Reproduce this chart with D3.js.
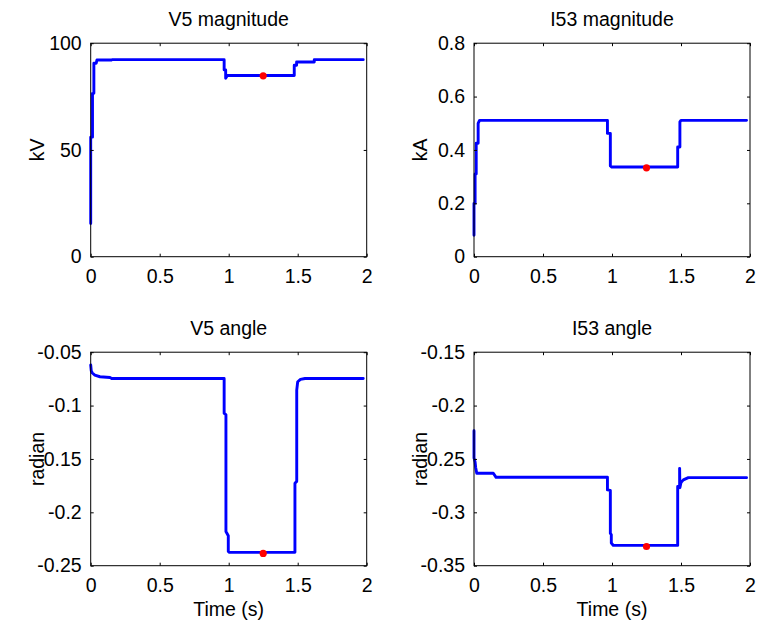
<!DOCTYPE html>
<html>
<head>
<meta charset="utf-8">
<script src="https://cdn.jsdelivr.net/npm/d3@7/dist/d3.min.js"></script>
<style>
  html, body { margin: 0; padding: 0; background: #fff; }
  svg { display: block; }
  text { font-family: "Liberation Sans", Arial, Helvetica, sans-serif; fill: #000; }
</style>
</head>
<body>
<svg id="fig" width="757" height="624"></svg>
<script>
// Shared time axis
const timeDomain = [0, 2];
const timeTicks = [0, 0.5, 1, 1.5, 2];
const timeTickLabels = ["0", "0.5", "1", "1.5", "2"];

// V5 magnitude (kV)
const v5MagTime  = [0, 0, 0.013, 0.013, 0.023, 0.023, 0.04, 0.045, 0.15, 0.155, 0.967, 0.967, 0.978, 0.978, 0.99, 1.475, 1.475, 1.492, 1.492, 1.62, 1.62, 1.975];
const v5MagValue = [15.5, 56, 56, 76.5, 76.5, 90.6, 90.6, 92.1, 92.1, 92.3, 92.3, 87.5, 87.5, 83.6, 84.9, 84.9, 89.7, 89.7, 91.2, 91.2, 92.3, 92.3];
const v5MagMarker = [1.25, 84.7];
const v5MagTicks = [0, 50, 100];
const v5MagTickLabels = ["0", "50", "100"];

// I53 magnitude (kA)
const i53MagTime  = [0, 0, 0.008, 0.008, 0.016, 0.016, 0.03, 0.03, 0.04, 0.967, 0.967, 0.988, 0.988, 0.998, 1.476, 1.476, 1.492, 1.492, 1.5, 1.975];
const i53MagValue = [0.08, 0.2, 0.2, 0.31, 0.31, 0.425, 0.425, 0.5, 0.511, 0.511, 0.462, 0.462, 0.34, 0.336, 0.336, 0.411, 0.411, 0.505, 0.511, 0.511];
const i53MagMarker = [1.25, 0.333];
const i53MagTicks = [0, 0.2, 0.4, 0.6, 0.8];
const i53MagTickLabels = ["0", "0.2", "0.4", "0.6", "0.8"];

// V5 angle (radian)
const v5AngTime  = [0, 0.004, 0.012, 0.03, 0.067, 0.14, 0.152, 0.967, 0.967, 0.98, 0.98, 0.997, 0.997, 1.005, 1.48, 1.48, 1.493, 1.493, 1.5, 1.52, 1.553, 1.975];
const v5AngValue = [-0.062, -0.0675, -0.0695, -0.0715, -0.073, -0.0737, -0.0746, -0.0746, -0.1073, -0.1085, -0.218, -0.222, -0.2366, -0.2375, -0.2375, -0.1727, -0.171, -0.0855, -0.0777, -0.0755, -0.0746, -0.0746];
const v5AngMarker = [1.25, -0.2385];
const v5AngTicks = [-0.25, -0.2, -0.15, -0.1, -0.05];
const v5AngTickLabels = ["-0.25", "-0.2", "-0.15", "-0.1", "-0.05"];

// I53 angle (radian)
const i53AngTime  = [0, 0, 0.008, 0.012, 0.02, 0.14, 0.16, 0.967, 0.967, 0.988, 0.988, 0.995, 0.995, 1.01, 1.476, 1.476, 1.49, 1.49, 1.492, 1.5, 1.517, 1.553, 1.975];
const i53AngValue = [-0.2235, -0.249, -0.253, -0.258, -0.2634, -0.2634, -0.2672, -0.2672, -0.279, -0.2795, -0.3195, -0.321, -0.3288, -0.331, -0.331, -0.2758, -0.2758, -0.2588, -0.277, -0.272, -0.2696, -0.2675, -0.2675];
const i53AngMarker = [1.25, -0.332];
const i53AngTicks = [-0.35, -0.3, -0.25, -0.2, -0.15];
const i53AngTickLabels = ["-0.35", "-0.3", "-0.25", "-0.2", "-0.15"];

const svg = d3.select("#fig");
const FONT = 19.5;

function panel(opt) {
  const { left, top, width, height } = opt;
  const g = svg.append("g").attr("transform", `translate(${left},${top})`);

  const x = d3.scaleLinear().domain(timeDomain).range([0, width]);
  const y = d3.scaleLinear().domain(opt.yDomain).range([height, 0]);

  const pts = opt.time.map((t, i) => [t, opt.value[i]]);

  // signal trace
  g.append("path")
    .datum(pts)
    .attr("fill", "none")
    .attr("stroke", "#0000ff")
    .attr("stroke-width", 2.9)
    .attr("stroke-linejoin", "round")
    .attr("stroke-linecap", "round")
    .attr("d", d3.line().x(d => x(d[0])).y(d => y(d[1])));

  // operating point marker
  g.append("circle")
    .attr("cx", x(opt.marker[0]))
    .attr("cy", y(opt.marker[1]))
    .attr("r", 3.6)
    .attr("fill", "#ff0000");

  const fmtX = d => timeTickLabels[timeTicks.indexOf(d)];
  const fmtY = d => opt.yLabels[opt.yTicks.indexOf(d)];

  const styleAxis = sel => {
    sel.select(".domain").remove();
    sel.selectAll(".tick line").attr("stroke", "#000").attr("stroke-width", 1);
    sel.selectAll("text").attr("font-size", FONT).attr("fill", "#000")
      .style("font-family", '"Liberation Sans", Arial, sans-serif');
  };

  // bottom axis with labels
  g.append("g").attr("transform", `translate(0,${height})`)
    .call(d3.axisBottom(x).tickValues(timeTicks).tickFormat(fmtX).tickSizeInner(-3).tickSizeOuter(0).tickPadding(12))
    .call(styleAxis);
  // top ticks (no labels)
  g.append("g")
    .call(d3.axisTop(x).tickValues(timeTicks).tickFormat("").tickSizeInner(-3).tickSizeOuter(0))
    .call(styleAxis);
  // left axis with labels
  g.append("g")
    .call(d3.axisLeft(y).tickValues(opt.yTicks).tickFormat(fmtY).tickSizeInner(-3).tickSizeOuter(0).tickPadding(9))
    .call(styleAxis);
  // right ticks (no labels)
  g.append("g").attr("transform", `translate(${width},0)`)
    .call(d3.axisRight(y).tickValues(opt.yTicks).tickFormat("").tickSizeInner(-3).tickSizeOuter(0))
    .call(styleAxis);

  // axes box
  g.append("rect")
    .attr("x", 0).attr("y", 0).attr("width", width).attr("height", height)
    .attr("fill", "none").attr("stroke", "#000").attr("stroke-width", 1);

  // title
  g.append("text")
    .attr("x", width / 2).attr("y", -17)
    .attr("text-anchor", "middle")
    .attr("font-size", FONT)
    .text(opt.title);

  // y label
  g.append("text")
    .attr("transform", `translate(${opt.yLabelX},${height / 2}) rotate(-90)`)
    .attr("text-anchor", "middle")
    .attr("font-size", FONT)
    .text(opt.yTitle);

  // x label
  if (opt.xTitle) {
    g.append("text")
      .attr("x", width / 2).attr("y", height + 50)
      .attr("text-anchor", "middle")
      .attr("font-size", FONT)
      .text(opt.xTitle);
  }
}

const W = 276, H = 213.5;
const colL = 90.7, colR = 474;
const rowT = 43.2, rowB = 352.2;

panel({ left: colL, top: rowT, width: W, height: H, title: "V5 magnitude", yTitle: "kV", yLabelX: -47,
  yDomain: [0, 100], yTicks: v5MagTicks, yLabels: v5MagTickLabels,
  time: v5MagTime, value: v5MagValue, marker: v5MagMarker });

panel({ left: colR, top: rowT, width: W, height: H, title: "I53 magnitude", yTitle: "kA", yLabelX: -47,
  yDomain: [0, 0.8], yTicks: i53MagTicks, yLabels: i53MagTickLabels,
  time: i53MagTime, value: i53MagValue, marker: i53MagMarker });

panel({ left: colL, top: rowB, width: W, height: H, title: "V5 angle", yTitle: "radian", yLabelX: -47,
  yDomain: [-0.25, -0.05], yTicks: v5AngTicks, yLabels: v5AngTickLabels, xTitle: "Time (s)",
  time: v5AngTime, value: v5AngValue, marker: v5AngMarker });

panel({ left: colR, top: rowB, width: W, height: H, title: "I53 angle", yTitle: "radian", yLabelX: -47,
  yDomain: [-0.35, -0.15], yTicks: i53AngTicks, yLabels: i53AngTickLabels, xTitle: "Time (s)",
  time: i53AngTime, value: i53AngValue, marker: i53AngMarker });
</script>
</body>
</html>
